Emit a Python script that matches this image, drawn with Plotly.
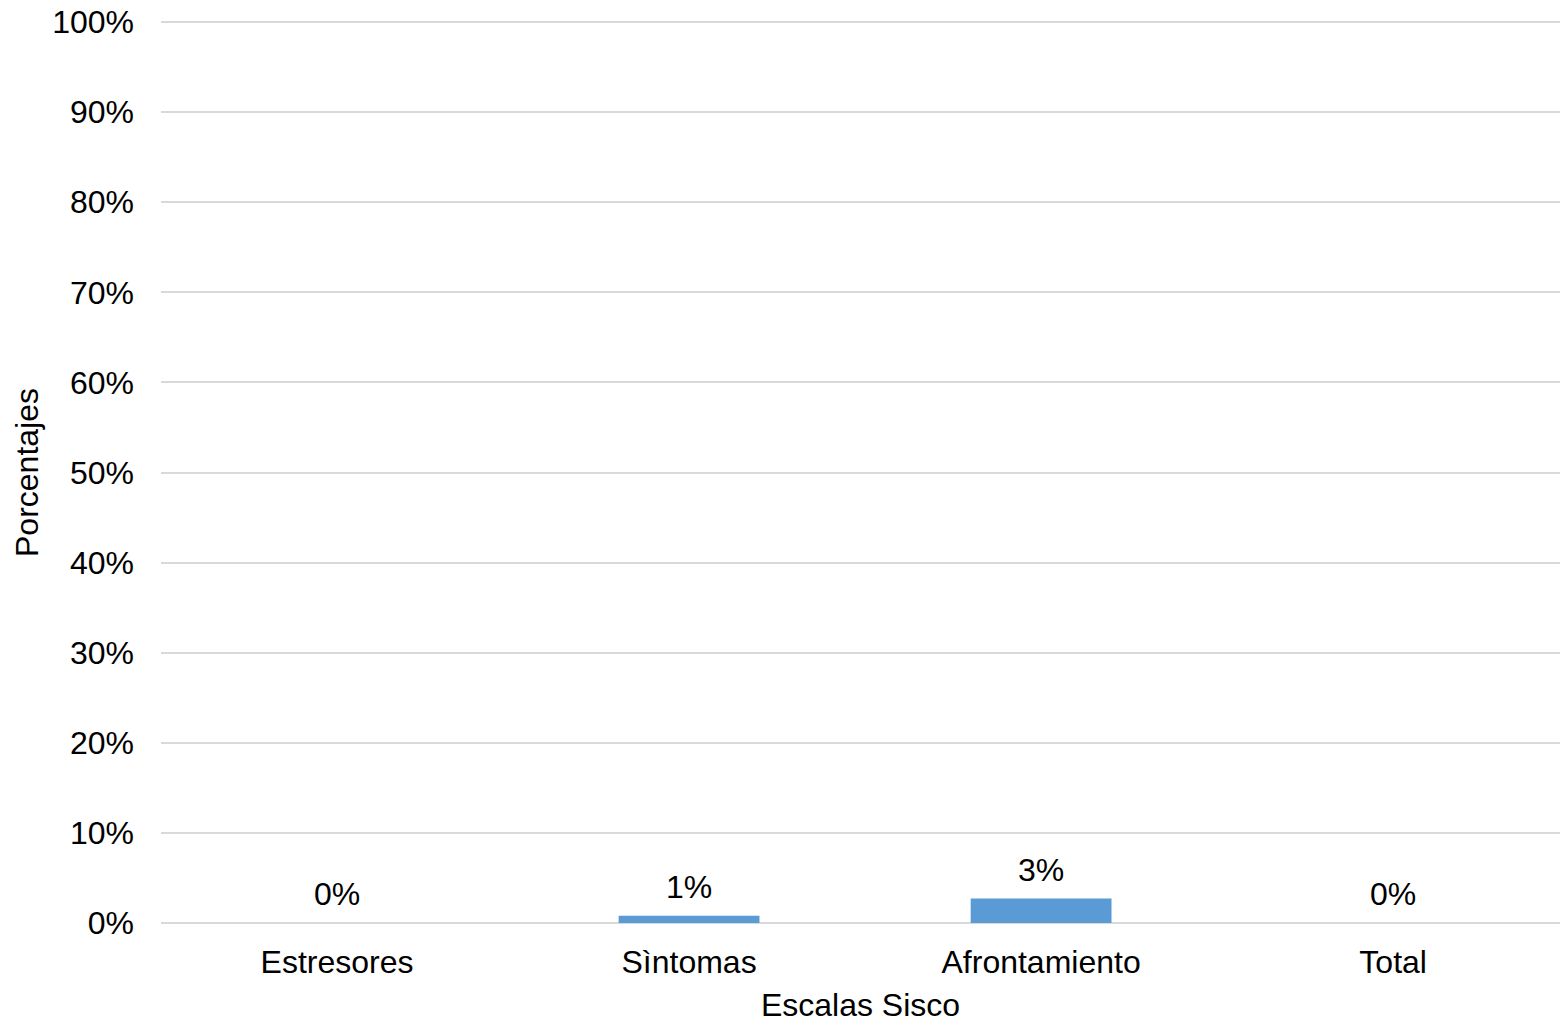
import plotly.graph_objects as go

# Escalas del inventario SISCO y porcentaje obtenido en cada una
categorias = ["Estresores", "Sìntomas", "Afrontamiento", "Total"]
porcentajes = [0.0, 0.008, 0.027, 0.0]
ticks_y = [0, 0.1, 0.2, 0.3, 0.4, 0.5, 0.6, 0.7, 0.8, 0.9, 1.0]

FONT = "Liberation Sans, Arial, sans-serif"
TXT = "#000000"
FS = 32

fig = go.Figure()
fig.add_trace(go.Bar(
    x=categorias,
    y=porcentajes,
    width=0.4,
    marker=dict(color="#5b9bd5", line=dict(width=0)),
    hovertemplate="%{x}: %{y:.0%}<extra></extra>",
))

# Etiquetas de valor sobre cada barra
for cat, val in zip(categorias, porcentajes):
    fig.add_annotation(
        x=cat, y=val, text=f"{val:.0%}",
        showarrow=False, yanchor="bottom", yshift=9,
        font=dict(family=FONT, size=FS, color=TXT),
    )

fig.update_layout(
    width=1560, height=1024,
    margin=dict(l=161, r=0, t=21, b=100),
    paper_bgcolor="white", plot_bgcolor="white",
    showlegend=False,
    font=dict(family=FONT, size=FS, color=TXT),
    xaxis=dict(
        range=[-0.5, 3.474],
        showgrid=False, zeroline=False, showline=False,
        ticks="", ticklabelstandoff=16,
        tickfont=dict(size=FS, color=TXT),
        title=dict(text="Escalas Sisco", font=dict(size=FS, color=TXT), standoff=14),
    ),
    yaxis=dict(
        range=[-0.0012, 1.0012],
        tickvals=ticks_y,
        tickformat=".0%",
        showgrid=True, gridcolor="#d9d9d9", gridwidth=2,
        zeroline=False, showline=False, ticks="",
        ticklabelstandoff=26,
        tickfont=dict(size=FS, color=TXT),
        title=dict(text="Porcentajes", font=dict(size=FS, color=TXT), standoff=3),
    ),
)

fig.write_html("out.html")
